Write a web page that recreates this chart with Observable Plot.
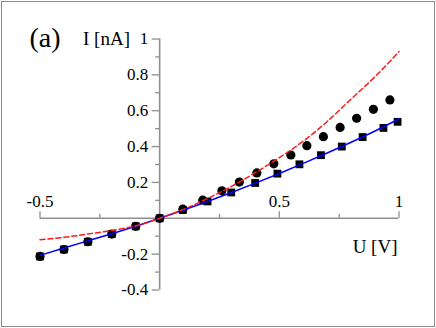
<!DOCTYPE html>
<html><head><meta charset="utf-8">
<script src="https://cdn.jsdelivr.net/npm/d3@7"></script>
<script src="https://cdn.jsdelivr.net/npm/@observablehq/plot@0.6"></script>
<style>
html,body{margin:0;padding:0;background:#fff;}
#chart svg{display:block; outline:1.7px solid #8c8c8c; outline-offset:-2.7px;}
</style></head><body><div id="chart"></div>
<script>
// Measured data: circles (series 1) and squares (series 2)
const circleU = [-0.5,-0.4,-0.3,-0.2,-0.1,0,0.097,0.18,0.26,0.333,0.406,0.477,0.548,0.615,0.684,0.754,0.823,0.893,0.962];
const circleI = [-0.213,-0.174,-0.131,-0.088,-0.045,0,0.051,0.101,0.153,0.202,0.253,0.304,0.353,0.405,0.455,0.507,0.558,0.608,0.66];
const squareU = [-0.5,-0.4,-0.3,-0.2,-0.1,0,0.097,0.2,0.299,0.399,0.492,0.584,0.674,0.761,0.848,0.935,0.994];
const squareI = [-0.213,-0.174,-0.131,-0.088,-0.045,0,0.046,0.094,0.144,0.197,0.249,0.301,0.352,0.4,0.453,0.504,0.538];
// Model curves
const curveU = [-0.5,-0.4,-0.3,-0.2,-0.1,0,0.1,0.2,0.3,0.4,0.5,0.6,0.7,0.8,0.9,1.0];
const blueI  = [-0.207,-0.166,-0.126,-0.086,-0.044,0,0.046,0.094,0.144,0.196,0.25,0.306,0.364,0.424,0.487,0.554];
const redI   = [-0.12,-0.106,-0.088,-0.068,-0.042,0,0.05,0.11,0.178,0.255,0.338,0.43,0.54,0.665,0.79,0.93];
// Ticks
const xMajor = [-0.5,0.5,1];
const xLabels = ["-0.5","0.5","1"];
const xMinor = [-0.25,0.25,0.75];
const yMajor = [-0.4,-0.2,0.2,0.4,0.6,0.8,1];
const yLabels = ["-0.4","-0.2","0.2","0.4","0.6","0.8","1"];
const yMinor = [-0.3,-0.1,0.1,0.3,0.5,0.7,0.9];

const circles = circleU.map((u,i)=>({U:u, I:circleI[i]}));
const squares = squareU.map((u,i)=>({U:u, I:squareI[i]}));
const blue = curveU.map((u,i)=>({U:u, I:blueI[i]}));
const red = curveU.map((u,i)=>({U:u, I:redI[i]}));

const W=436, H=328, mL=39.5, mR=37.5, mT=38.5, mB=38.5;
const xDom=[-0.5,1], yDom=[-0.4,1];
const ux=(xDom[1]-xDom[0])/(W-mL-mR);
const uy=(yDom[1]-yDom[0])/(H-mT-mB);
const axisColor="#8f8f8f";
const font="Liberation Serif, Times New Roman, serif";

const plot = Plot.plot({
  width: W, height: H,
  marginLeft: mL, marginRight: mR, marginTop: mT, marginBottom: mB,
  style: {fontFamily: font, background: "white", overflow: "visible"},
  x: {domain: xDom, axis: null},
  y: {domain: yDom, axis: null},
  marks: [
    Plot.ruleY([0], {x1: xDom[0], x2: xDom[1], stroke: axisColor, strokeWidth: 1.6}),
    Plot.ruleX([0], {y1: yDom[0], y2: yDom[1], stroke: axisColor, strokeWidth: 1.6}),
    Plot.ruleX(xMajor, {x: d=>d, y1: 0, y2: 6.5*uy, stroke: axisColor, strokeWidth: 1.3}),
    Plot.ruleX(xMinor, {x: d=>d, y1: 0, y2: 4*uy, stroke: axisColor, strokeWidth: 1.3}),
    Plot.ruleY(yMajor, {y: d=>d, x1: -7.5*ux, x2: 0, stroke: axisColor, strokeWidth: 1.3}),
    Plot.ruleY(yMinor, {y: d=>d, x1: -4*ux, x2: 0, stroke: axisColor, strokeWidth: 1.3}),
    Plot.text(xMajor, {x: d=>d, y: 0, text: (d,i)=>xLabels[i], dy: -11, lineAnchor: "bottom", fontSize: 17, fontFamily: font, fill: "#000"}),
    Plot.text(yMajor, {x: 0, y: d=>d, text: (d,i)=>yLabels[i], dx: -11.5, textAnchor: "end", fontSize: 17, fontFamily: font, fill: "#000"}),
    Plot.dot(squares, {x: "U", y: "I", symbol: "square", r: 4.4, fill: "black", stroke: "none"}),
    Plot.dot(circles, {x: "U", y: "I", symbol: "circle", r: 4.6, fill: "black", stroke: "none"}),
    Plot.line(blue, {x: "U", y: "I", stroke: "#0000ff", strokeWidth: 1.5, curve: "natural"}),
    Plot.line(red, {x: "U", y: "I", stroke: "#ff1a1a", strokeWidth: 1.5, strokeDasharray: "5,3", curve: "natural"}),
    Plot.text(["(a)"], {frameAnchor: "top-left", dx: -10.5, dy: 7.5, lineAnchor: "bottom", textAnchor: "start", fontSize: 28, fontFamily: font, fill: "#000"}),
    Plot.text(["I [nA]"], {frameAnchor: "top-left", dx: 90, dy: 5.5, lineAnchor: "bottom", textAnchor: "end", fontSize: 19, fontFamily: font, fill: "#000"}),
    Plot.text(["U [V]"], {frameAnchor: "top-left", dx: 357.5, dy: 213.5, lineAnchor: "bottom", textAnchor: "end", fontSize: 19, fontFamily: font, fill: "#000"})
  ]
});
document.getElementById("chart").appendChild(plot);
</script></body></html>
